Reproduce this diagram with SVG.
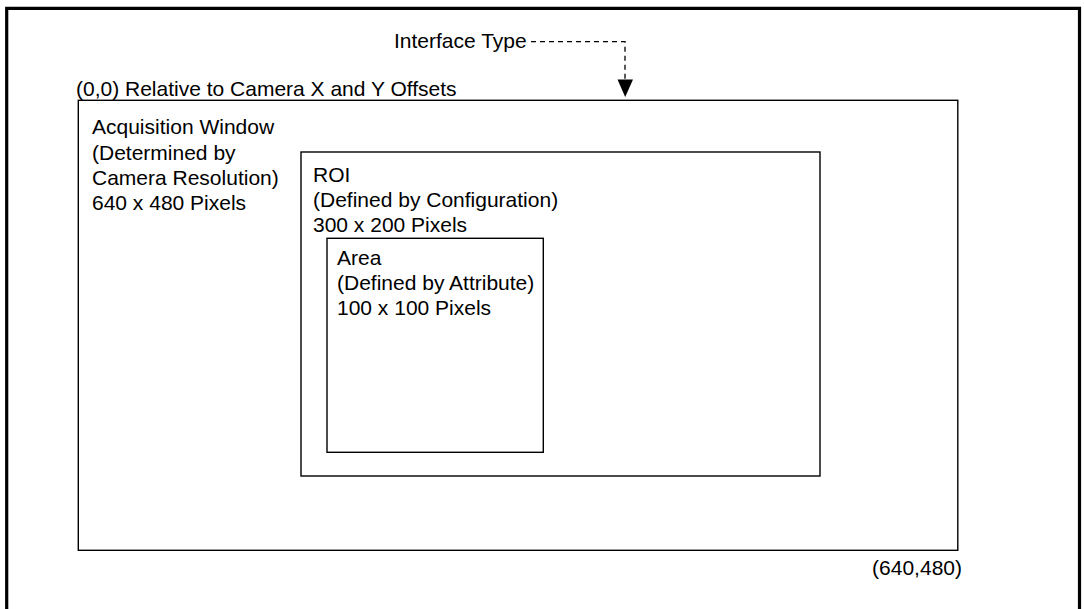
<svg xmlns="http://www.w3.org/2000/svg" width="1084" height="609" viewBox="0 0 1084 609">
<style>
text{font-family:"Liberation Sans",Arial,sans-serif;font-size:21px;fill:#000}
.box{fill:none;stroke:#000;stroke-width:1.4}
.dash{fill:none;stroke:#000;stroke-width:1.3;stroke-dasharray:5 4}
</style>
<defs>
<marker id="arr" markerWidth="16" markerHeight="18" refX="7.5" refY="17" orient="auto-start-reverse" markerUnits="userSpaceOnUse" viewBox="0 0 16 18">
<path d="M0,0 L15,0 L7.5,17 Z" fill="#000" transform="rotate(-90 7.5 8.5)"/>
</marker>
</defs>
<rect width="1084" height="609" fill="#fff"/>
<path d="M6.7,609 V8.3 H1079.5 V609" fill="none" stroke="#000" stroke-width="3.2"/>
<g id="acquisition-window">
<rect class="box" x="78.3" y="100.3" width="879.5" height="450"/>
<text x="92" y="134">Acquisition Window</text>
<text x="92" y="159.5">(Determined by</text>
<text x="92" y="185">Camera Resolution)</text>
<text x="92" y="210">640 x 480 Pixels</text>
</g>
<g id="roi">
<rect class="box" x="301" y="152" width="519" height="324"/>
<text x="313" y="182">ROI</text>
<text x="313" y="207">(Defined by Configuration)</text>
<text x="313" y="232">300 x 200 Pixels</text>
</g>
<g id="area">
<rect class="box" x="327" y="238.3" width="216.3" height="214"/>
<text x="337" y="265">Area</text>
<text x="337" y="290">(Defined by Attribute)</text>
<text x="337" y="315">100 x 100 Pixels</text>
</g>
<g id="labels">
<text x="394" y="47.5">Interface Type</text>
<text x="76" y="96">(0,0) Relative to Camera X and Y Offsets</text>
<text x="962" y="575" text-anchor="end">(640,480)</text>
</g>
<g id="connectors">
<path class="dash" d="M531,41.7 H625 V80"/>
<path d="M617.5,79.5 L633,79.5 L625.2,97 Z" fill="#000"/>
</g>
</svg>
